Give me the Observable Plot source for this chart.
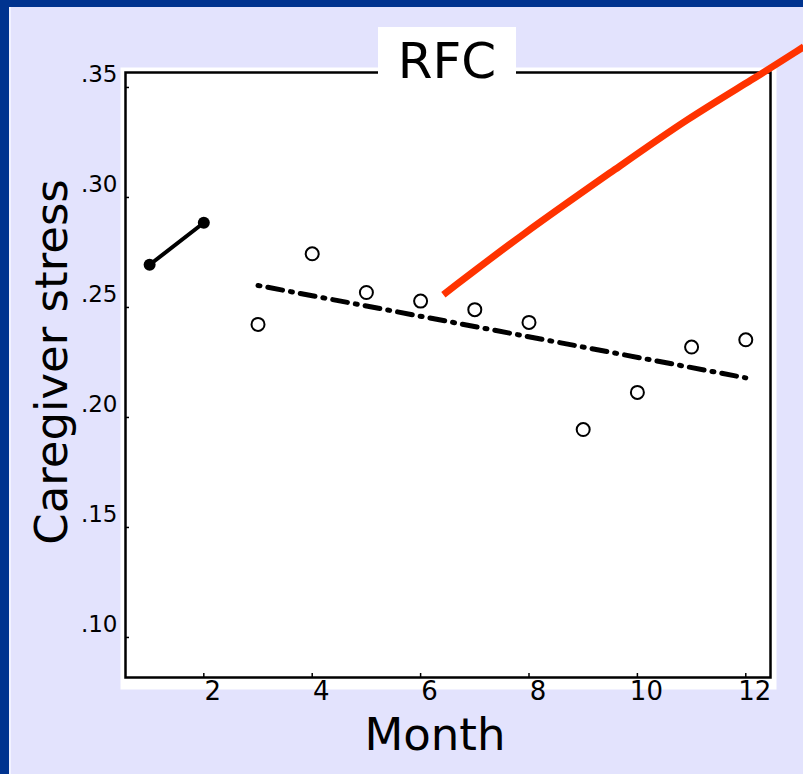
<!DOCTYPE html>
<html>
<head>
<meta charset="utf-8">
<script src="https://cdn.jsdelivr.net/npm/d3@7"></script>
<script src="https://cdn.jsdelivr.net/npm/@observablehq/plot@0.6"></script>
<style>
  html, body { margin: 0; padding: 0; width: 803px; height: 774px; overflow: hidden; background: #00338F; }
  #bg { position: absolute; left: 9px; top: 7px; right: 0; bottom: 0; background: #E3E3FD; border-left: 2px solid #F2F2FF; }
  #chart { position: absolute; left: 0; top: 0; }
  #title { position: absolute; left: 378px; top: 27px; width: 138px; height: 47px; background: #fff;
           font-family: "DejaVu Sans", sans-serif; font-size: 50px; line-height: 68px; text-align: center; color: #000; }
</style>
</head>
<body>
<div id="bg"></div>
<div id="chart"></div>
<div id="title">RFC</div>
<script>
// Baseline months (filled points joined by a line)
const preMonths = [1, 2];
const preStress = [0.2694, 0.2885];
// Post-baseline monthly means (open circles)
const postMonths = [3, 4, 5, 6, 7, 8, 9, 10, 11, 12];
const postStress = [0.2423, 0.2744, 0.2568, 0.2529, 0.2490, 0.2432, 0.1945, 0.2114, 0.2320, 0.2353];
// Fitted trend (dash-dot)
const trendMonths = [3, 12];
const trendStress = [0.260, 0.218];
// Red curve
const rfcMonths = [6.42, 7.84, 9.69, 10.92, 12.15, 13.07];
const rfcStress = [0.2558, 0.2827, 0.3145, 0.3358, 0.3540, 0.3685];
// Axis ticks
const xTicks = [2, 4, 6, 8, 10, 12];
const yTicks = [0.10, 0.15, 0.20, 0.25, 0.30, 0.35];

const pre = preMonths.map((m, i) => ({month: m, stress: preStress[i]}));
const post = postMonths.map((m, i) => ({month: m, stress: postStress[i]}));
const trend = trendMonths.map((m, i) => ({month: m, stress: trendStress[i]}));
const rfc = rfcMonths.map((m, i) => ({month: m, stress: rfcStress[i]}));

const fmtY = d => d.toFixed(2).replace(/^0/, "");

const chart = Plot.plot({
  width: 803,
  height: 774,
  marginLeft: 125,
  marginRight: 33,
  marginTop: 72,
  marginBottom: 97,
  style: {background: "transparent", overflow: "visible", fontFamily: "DejaVu Sans, sans-serif", color: "#000"},
  x: {domain: [0.555, 12.456], label: null},
  y: {domain: [0.0818, 0.3568], label: null},
  marks: [
    Plot.frame({fill: "white", insetLeft: -5, insetRight: -6, insetTop: -5, insetBottom: -12}),
    // inward tick stubs
    Plot.axisY(yTicks, {tickSize: -4, strokeWidth: 1.5, text: null, label: null}),
    Plot.axisX(xTicks, {tickSize: -4, strokeWidth: 1.5, text: null, label: null}),
    // tick labels
    Plot.axisY(yTicks, {tickSize: 0, tickPadding: 8, dy: -13, tickFormat: fmtY, fontSize: 23, label: null}),
    Plot.axisX(xTicks, {tickSize: 0, tickPadding: 4, dx: 9, fontSize: 26, label: null}),
    Plot.frame({stroke: "black", strokeWidth: 2.5}),
    Plot.line(trend, {x: "month", y: "stress", stroke: "black", strokeWidth: 5, strokeDasharray: "2,8,15,8"}),
    Plot.line(pre, {x: "month", y: "stress", stroke: "black", strokeWidth: 4}),
    Plot.dot(pre, {x: "month", y: "stress", r: 6, fill: "black"}),
    Plot.dot(post, {x: "month", y: "stress", r: 6.5, fill: "white", stroke: "black", strokeWidth: 2}),
    Plot.line(rfc, {x: "month", y: "stress", stroke: "#FF3300", strokeWidth: 7, curve: "basis", strokeLinecap: "butt"}),
    Plot.text(["Month"], {frameAnchor: "bottom", dx: -13, dy: 58, fontSize: 45, lineAnchor: "middle"}),
    Plot.text(["Caregiver stress"], {frameAnchor: "left", textAnchor: "middle", rotate: -90, dx: -73, dy: -13, fontSize: 45, lineAnchor: "middle"})
  ]
});
document.getElementById("chart").appendChild(chart);
</script>
</body>
</html>
